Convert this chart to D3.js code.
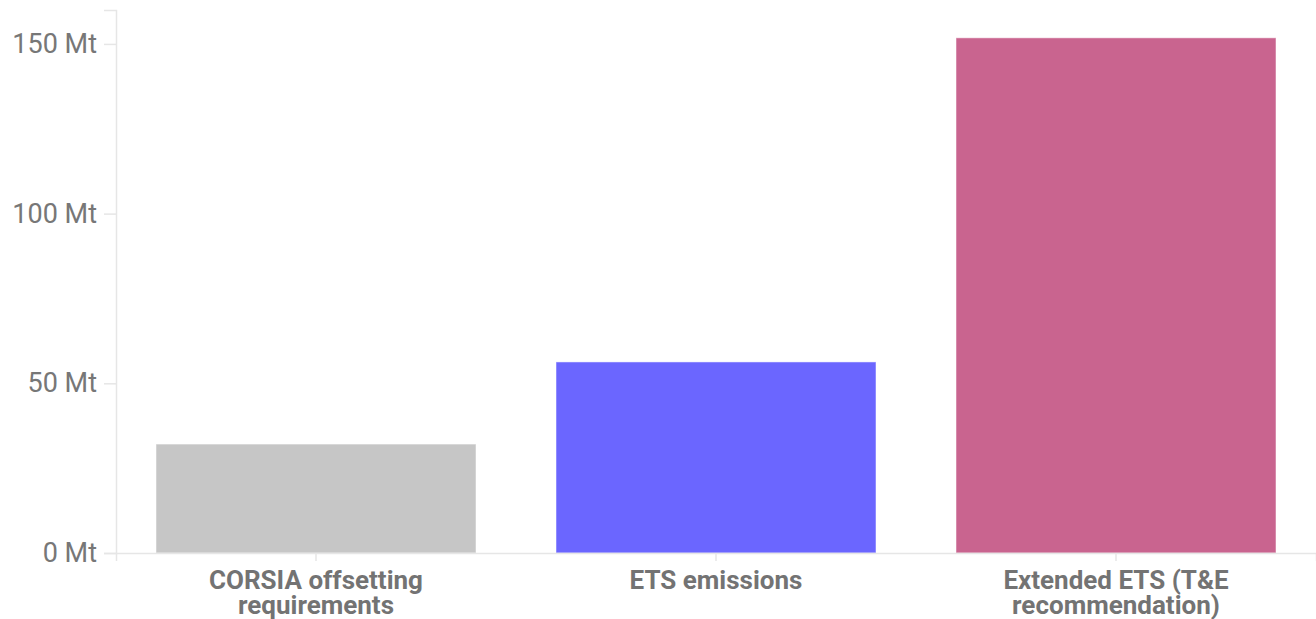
<!DOCTYPE html>
<html>
<head>
<meta charset="utf-8">
<script src="https://cdn.jsdelivr.net/npm/d3@7"></script>
<style>
  html, body { margin: 0; padding: 0; background: #fff; }
  svg { display: block; font-family: Roboto, "Noto Sans", sans-serif; }
</style>
</head>
<body>
<svg id="chart" width="1316" height="619"></svg>
<script>
// Aviation emissions covered under each scheme (Mt CO2)
const categories = [
  ["CORSIA offsetting", "requirements"],
  ["ETS emissions"],
  ["Extended ETS (T&E", "recommendation)"]
];
const values = [32.1, 56.3, 151.8];
const colors = ["#c6c6c6", "#6b66ff", "#c9648f"];
const yTicks = [0, 50, 100, 150];
const yTickLabels = ["0 Mt", "50 Mt", "100 Mt", "150 Mt"];

const svg = d3.select("#chart");
const margin = { top: 10, right: 0, bottom: 66, left: 116 };
const W = 1316, H = 619;

const keys = categories.map((c, i) => i);
const x = d3.scaleBand()
  .domain(keys)
  .range([margin.left, W - margin.right])
  .paddingInner(0.2)
  .paddingOuter(0.1);

const y = d3.scaleLinear()
  .domain([0, 160])
  .range([H - margin.bottom, margin.top]);

// y axis
const yAxis = svg.append("g")
  .attr("transform", `translate(${margin.left},0)`)
  .call(d3.axisLeft(y).tickValues(yTicks)
    .tickFormat((d, i) => yTickLabels[i]).tickSize(12).tickPadding(7));
yAxis.select(".domain").attr("stroke", "#e6e6e6").attr("stroke-width", 1.5);
yAxis.selectAll(".tick line").attr("stroke", "#e6e6e6").attr("stroke-width", 1.5);
yAxis.selectAll(".tick text")
  .attr("fill", "#777").attr("font-size", 27).attr("font-family", "Roboto");

// bars
svg.append("g").selectAll("rect")
  .data(values)
  .join("rect")
  .attr("x", (d, i) => x(i))
  .attr("width", x.bandwidth())
  .attr("y", d => y(d))
  .attr("height", d => y(0) - y(d))
  .attr("fill", (d, i) => colors[i])
  .attr("stroke", "rgba(255,255,255,0.5)")
  .attr("stroke-width", 1);

// x axis
const xAxis = svg.append("g")
  .attr("transform", `translate(0,${y(0)})`)
  .call(d3.axisBottom(x).tickSize(8).tickFormat(""));
xAxis.select(".domain").attr("stroke", "#e6e6e6").attr("stroke-width", 1.5);
xAxis.selectAll(".tick line").attr("stroke", "#e6e6e6").attr("stroke-width", 1.5);

// category labels
const labels = svg.append("g").selectAll("text")
  .data(categories)
  .join("text")
  .attr("x", (d, i) => x(i) + x.bandwidth() / 2)
  .attr("y", y(0) + 36)
  .attr("text-anchor", "middle")
  .attr("fill", "#737373")
  .attr("font-size", 26)
  .attr("font-weight", "bold");
labels.each(function(lines) {
  const t = d3.select(this);
  lines.forEach((ln, j) => {
    t.append("tspan")
      .attr("x", t.attr("x"))
      .attr("dy", j === 0 ? 0 : 25)
      .text(ln);
  });
});
</script>
</body>
</html>
